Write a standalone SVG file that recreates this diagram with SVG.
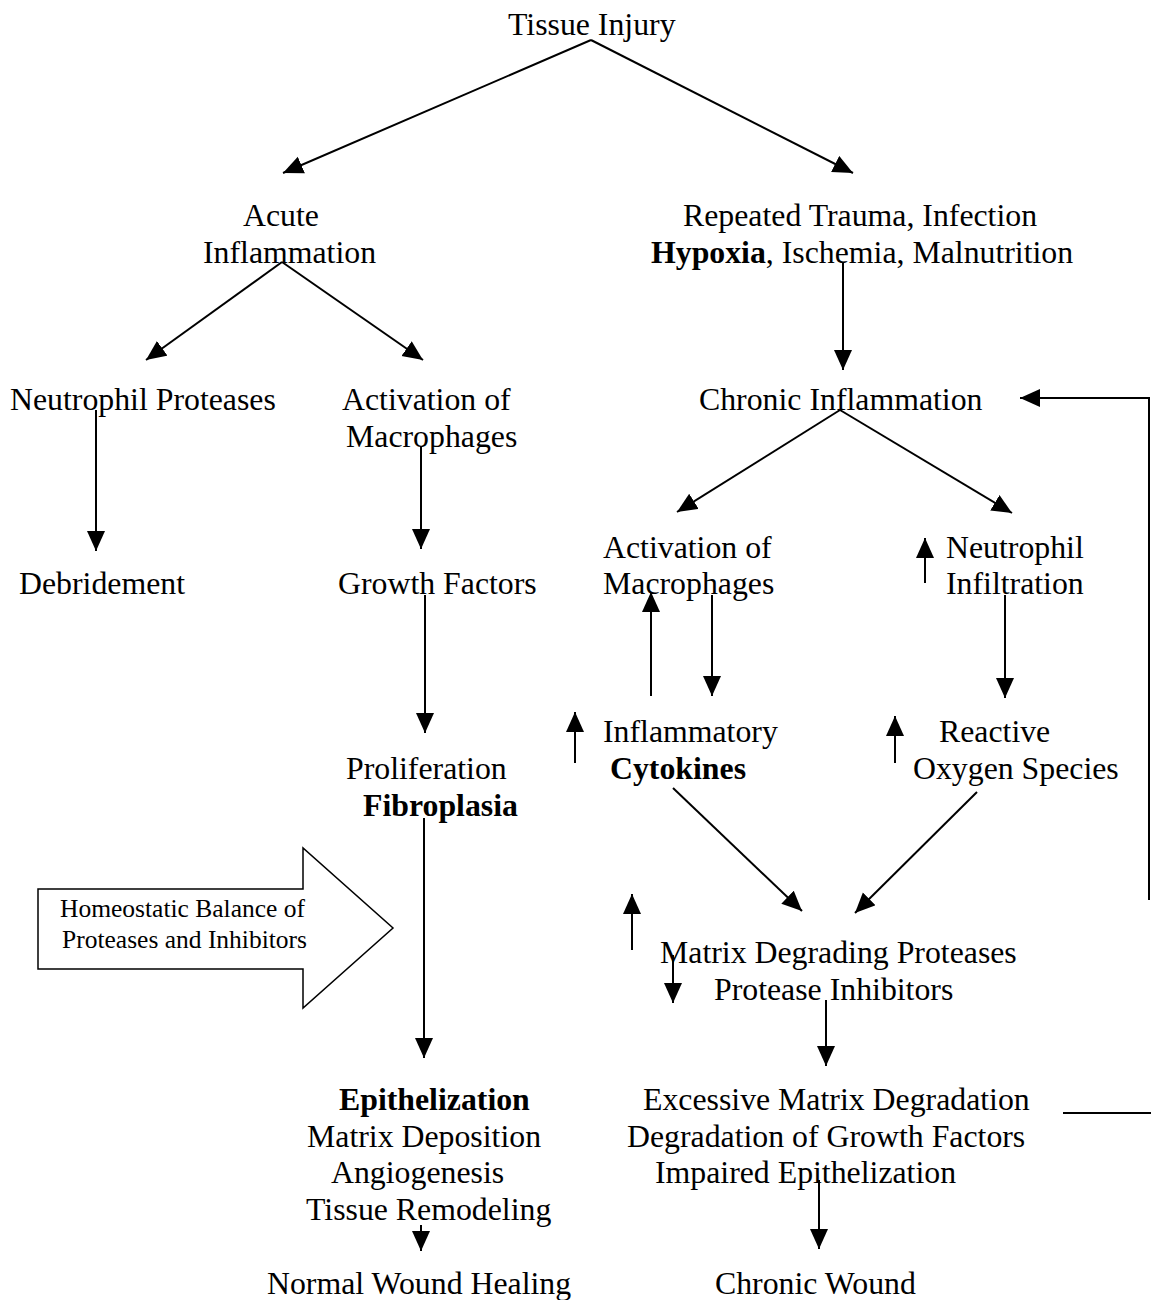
<svg xmlns="http://www.w3.org/2000/svg" width="1151" height="1300" viewBox="0 0 1151 1300">
<defs>
<marker id="ah" markerUnits="userSpaceOnUse" markerWidth="22" markerHeight="20" refX="20" refY="9" orient="auto" viewBox="0 0 22 20">
<path d="M0,0 L20,9 L0,18 z" fill="#000"/>
</marker>
<style>
text{font-family:"Liberation Serif","Times New Roman",serif;font-size:31.8px;fill:#000}
.b{font-weight:bold}
.s{font-size:25.5px}
.c line,.c polyline{stroke:#000;stroke-width:2;fill:none}
.a{marker-end:url(#ah)}
</style>
</defs>
<rect width="1151" height="1300" fill="#fff"/>
<g id="n-tissue-injury"><text x="508" y="35">Tissue Injury</text></g>
<g id="n-acute"><text x="243" y="226">Acute</text><text x="203" y="263">Inflammation</text></g>
<g id="n-repeated"><text x="683" y="226">Repeated Trauma, Infection</text><text x="651" y="263"><tspan class="b">Hypoxia</tspan>, Ischemia, Malnutrition</text></g>
<g id="n-neutrophil-proteases"><text x="10" y="410">Neutrophil Proteases</text></g>
<g id="n-activation-left"><text x="342" y="410">Activation of</text><text x="346" y="447">Macrophages</text></g>
<g id="n-chronic-inflammation"><text x="699" y="410">Chronic Inflammation</text></g>
<g id="n-debridement"><text x="19" y="594">Debridement</text></g>
<g id="n-growth-factors"><text x="338" y="594">Growth Factors</text></g>
<g id="n-activation-right"><text x="603" y="558">Activation of</text><text x="603" y="594">Macrophages</text></g>
<g id="n-neutrophil-infiltration"><text x="946" y="558">Neutrophil</text><text x="946" y="594">Infiltration</text></g>
<g id="n-cytokines"><text x="603" y="742">Inflammatory</text><text x="610" y="779" class="b">Cytokines</text></g>
<g id="n-ros"><text x="939" y="742">Reactive</text><text x="913" y="779">Oxygen Species</text></g>
<g id="n-proliferation"><text x="346" y="779">Proliferation</text><text x="363" y="816" class="b">Fibroplasia</text></g>
<g id="n-homeostatic">
<polygon points="38,889 303,889 303,848 393,928 303,1008 303,969 38,969" fill="#fff" stroke="#000" stroke-width="1.5"/>
<text x="60" y="917" class="s">Homeostatic Balance of</text>
<text x="62" y="948" class="s">Proteases and Inhibitors</text>
</g>
<g id="n-matrix-proteases"><text x="660" y="963">Matrix Degrading Proteases</text><text x="714" y="1000">Protease Inhibitors</text></g>
<g id="n-epithelization"><text x="339" y="1110" class="b">Epithelization</text><text x="307" y="1147">Matrix Deposition</text><text x="331" y="1183">Angiogenesis</text><text x="306" y="1220">Tissue Remodeling</text></g>
<g id="n-excessive"><text x="643" y="1110">Excessive Matrix Degradation</text><text x="627" y="1147">Degradation of Growth Factors</text><text x="655" y="1183">Impaired Epithelization</text></g>
<g id="n-normal"><text x="267" y="1294">Normal Wound Healing</text></g>
<g id="n-chronic-wound"><text x="715" y="1294">Chronic Wound</text></g>
<g id="connectors" class="c">
<line class="a" x1="591" y1="40" x2="283" y2="173"/>
<line class="a" x1="591" y1="40" x2="853" y2="173"/>
<line class="a" x1="282" y1="262" x2="146" y2="360"/>
<line class="a" x1="282" y1="262" x2="423" y2="360"/>
<line class="a" x1="96" y1="410" x2="96" y2="551"/>
<line class="a" x1="421" y1="447" x2="421" y2="549"/>
<line class="a" x1="425" y1="595" x2="425" y2="733"/>
<line class="a" x1="424" y1="818" x2="424" y2="1058"/>
<line class="a" x1="421" y1="1225" x2="421" y2="1251"/>
<line class="a" x1="843" y1="263" x2="843" y2="370"/>
<line class="a" x1="840" y1="410" x2="677" y2="512"/>
<line class="a" x1="840" y1="410" x2="1012" y2="513"/>
<line class="a" x1="651" y1="696" x2="651" y2="592"/>
<line class="a" x1="712" y1="595" x2="712" y2="696"/>
<line class="a" x1="925" y1="583" x2="925" y2="538"/>
<line class="a" x1="1005" y1="595" x2="1005" y2="698"/>
<line class="a" x1="575" y1="763" x2="575" y2="712"/>
<line class="a" x1="895" y1="763" x2="895" y2="716"/>
<line class="a" x1="673" y1="788" x2="802" y2="911"/>
<line class="a" x1="977" y1="792" x2="855" y2="913"/>
<line class="a" x1="632" y1="950" x2="632" y2="894"/>
<line class="a" x1="673" y1="955" x2="673" y2="1003"/>
<line class="a" x1="826" y1="1000" x2="826" y2="1066"/>
<line class="a" x1="819" y1="1180" x2="819" y2="1249"/>
<polyline class="a" points="1149,900 1149,398 1020,398"/>
<line x1="1063" y1="1113" x2="1151" y2="1113"/>
</g>
</svg>
